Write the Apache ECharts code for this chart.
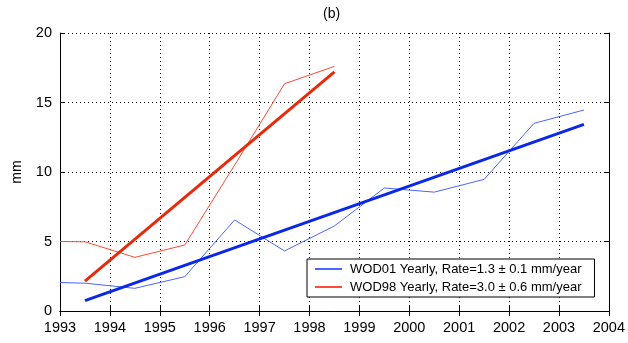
<!DOCTYPE html>
<html>
<head>
<meta charset="utf-8">
<script src="https://cdn.jsdelivr.net/npm/echarts@6/dist/echarts.min.js"></script>
<style>
html,body{margin:0;padding:0;background:#fff;}
#chart{width:628px;height:343px;}
</style>
</head>
<body>
<div id="chart"></div>
<script>
// Data
const yearsWOD01 = [1993.0, 1993.5, 1994.5, 1995.5, 1996.5, 1997.5, 1998.5, 1999.5, 2000.5, 2001.5, 2002.5, 2003.5];
const valuesWOD01 = [2.05, 2.0, 1.63, 2.47, 6.55, 4.32, 6.12, 8.85, 8.55, 9.47, 13.5, 14.46];
const yearsWOD98 = [1993.0, 1993.5, 1994.5, 1995.5, 1996.5, 1997.5, 1998.5];
const valuesWOD98 = [5.0, 4.98, 3.86, 4.75, 10.5, 16.35, 17.6];
const fitYearsWOD01 = [1993.5, 2003.5];
const fitValuesWOD01 = [0.75, 13.43];
const fitYearsWOD98 = [1993.5, 1998.5];
const fitValuesWOD98 = [2.15, 17.2];
const nameWOD01 = 'WOD01 Yearly, Rate=1.3 ± 0.1 mm/year';
const nameWOD98 = 'WOD98 Yearly, Rate=3.0 ± 0.6 mm/year';
const xTicks = [1993, 2004, 1];
const yTicks = [0, 20, 5];

function pairs(xs, ys) { return xs.map((x, i) => [x, ys[i]]); }

const FONT = 'Liberation Sans';
const chart = echarts.init(document.getElementById('chart'), null, {renderer: 'canvas'});
const dotted = {show: true, lineStyle: {color: '#000', type: [1, 3], width: 1}};
const axisLineBlack = {show: true, lineStyle: {color: '#000', width: 1}};
const tickIn = {show: true, inside: true, length: 5, lineStyle: {color: '#000'}};
const labelStyle = {color: '#000', fontSize: 14.5, fontFamily: FONT};

chart.setOption({
  animation: false,
  backgroundColor: '#fff',
  title: {
    text: '(b)', left: 323, top: 7, padding: 0,
    textStyle: {fontSize: 14, fontWeight: 'normal', color: '#000', fontFamily: FONT}
  },
  grid: {left: 60, right: 19, top: 33, bottom: 32},
  legend: {
    data: [nameWOD01, nameWOD98],
    orient: 'vertical',
    left: 307, top: 259,
    backgroundColor: '#fff',
    borderColor: '#000', borderWidth: 1, borderRadius: 0,
    padding: [3, 13, 3, 8],
    itemWidth: 27, itemHeight: 2, itemGap: 4,
    icon: 'rect',
    textStyle: {fontSize: 13, lineHeight: 14, color: '#000', fontFamily: FONT, padding: [0, 0, 0, 3]}
  },
  xAxis: [
    {
      type: 'value', min: xTicks[0], max: xTicks[1], interval: xTicks[2],
      axisLine: axisLineBlack, axisTick: tickIn, splitLine: dotted,
      axisLabel: Object.assign({margin: 9, formatter: v => String(v)}, labelStyle)
    },
    {
      type: 'value', position: 'top', min: xTicks[0], max: xTicks[1], interval: xTicks[2],
      axisLine: axisLineBlack, axisTick: tickIn, splitLine: {show: false}, axisLabel: {show: false}
    }
  ],
  yAxis: [
    {
      type: 'value', min: yTicks[0], max: yTicks[1], interval: yTicks[2],
      name: 'mm', nameLocation: 'middle', nameGap: 36, nameRotate: 90,
      nameTextStyle: {fontSize: 14, color: '#000', fontFamily: FONT},
      axisLine: axisLineBlack, axisTick: tickIn, splitLine: dotted,
      axisLabel: Object.assign({margin: 8}, labelStyle)
    },
    {
      type: 'value', position: 'right', min: yTicks[0], max: yTicks[1], interval: yTicks[2],
      axisLine: axisLineBlack, axisTick: tickIn, splitLine: {show: false}, axisLabel: {show: false}
    }
  ],
  series: [
    {
      name: nameWOD01, type: 'line', data: pairs(yearsWOD01, valuesWOD01),
      symbol: 'none', lineStyle: {color: '#4a66ff', width: 1}, itemStyle: {color: '#4a66ff'}, z: 3
    },
    {
      name: nameWOD98, type: 'line', data: pairs(yearsWOD98, valuesWOD98),
      symbol: 'none', lineStyle: {color: '#ff4a38', width: 1}, itemStyle: {color: '#ff4a38'}, z: 3
    },
    {
      name: 'fit01', type: 'line', data: pairs(fitYearsWOD01, fitValuesWOD01),
      symbol: 'none', lineStyle: {color: '#0a28e6', width: 3}, z: 4
    },
    {
      name: 'fit98', type: 'line', data: pairs(fitYearsWOD98, fitValuesWOD98),
      symbol: 'none', lineStyle: {color: '#e82a0a', width: 3}, z: 4
    }
  ]
});
</script>
</body>
</html>
